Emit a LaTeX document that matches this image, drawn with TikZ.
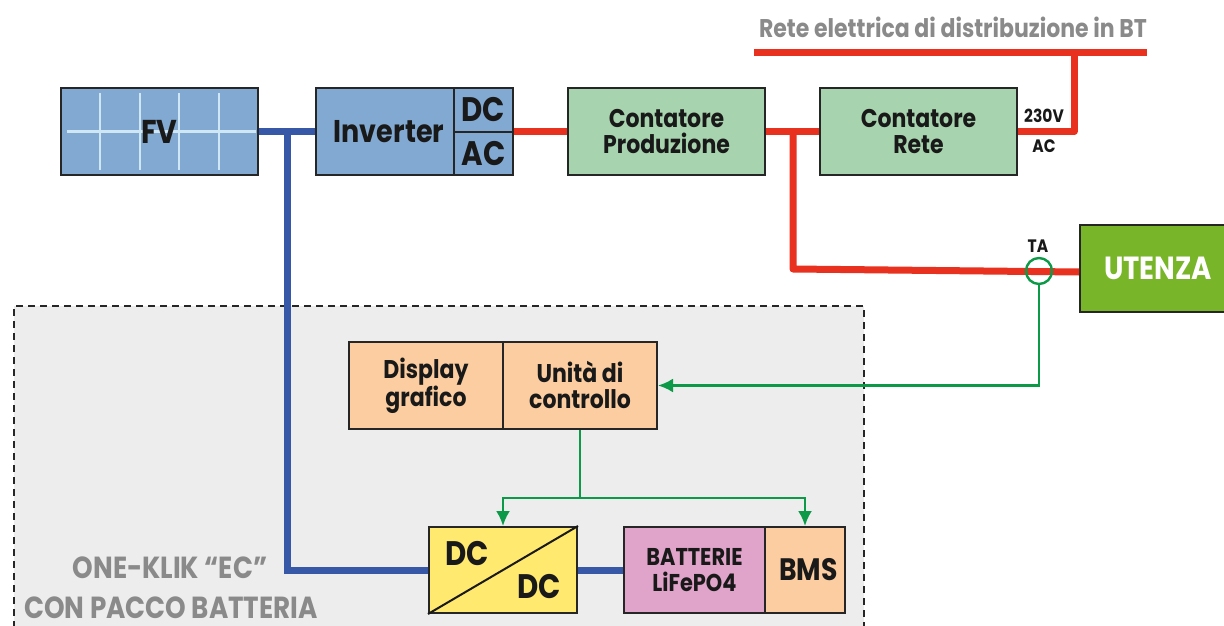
\documentclass[tikz,border=0pt]{standalone}
\usepackage{fontspec}
\setmainfont{Poppins}[FakeStretch=0.86]
\usepackage{tikz}
\usetikzlibrary{arrows.meta, positioning}

\definecolor{fvblue}{HTML}{82A9D2}
\definecolor{gridblue}{HTML}{CFE6F5}
\definecolor{linkblue}{HTML}{3658A6}
\definecolor{linkred}{HTML}{E8311F}
\definecolor{linkgreen}{HTML}{0C9A48}
\definecolor{meter}{HTML}{A7D3AE}
\definecolor{load}{HTML}{78B528}
\definecolor{peach}{HTML}{FBCDA0}
\definecolor{conv}{HTML}{FFE96F}
\definecolor{batt}{HTML}{E0A3C9}
\definecolor{zone}{HTML}{EDEDED}
\definecolor{txtgray}{HTML}{8A8A8A}

\tikzset{
  box/.style={draw=black!85,line width=2pt,minimum height=87pt,inner sep=0pt,align=center,
    font=\fontsize{25.6}{26}\selectfont\bfseries,text=black!90},
  bigtxt/.style={font=\fontsize{34}{36}\selectfont\bfseries},
  panelgrid/.style={draw=gridblue,line width=2.5pt},
  redlink/.style={draw=linkred,line width=7pt},
  bluelink/.style={draw=linkblue,line width=7pt},
  ctrl/.style={draw=linkgreen,line width=2.4pt},
  ctrlarrow/.style={ctrl,-{Latex[length=15pt,width=14pt]}},
  smalltxt/.style={font=\fontsize{18}{20}\selectfont\bfseries,text=black!90,inner sep=0pt},
  graytxt/.style={font=\fontsize{30.5}{32}\selectfont\bfseries,text=txtgray,inner sep=0pt}
}

\begin{document}
\begin{tikzpicture}[x=1pt,y=-1pt,node distance=252pt,on grid]
\useasboundingbox (0,0) rectangle (1224,626);

% zone
\path[fill=zone] (14,306) rectangle (864,640);
\draw[black!85,line width=2pt,dash pattern=on 7pt off 5pt] (14,640) -- (14,306) -- (864,306) -- (864,640);

% top row
\node[box,bigtxt,font=\fontsize{33}{35}\selectfont\bfseries,fill=fvblue,minimum width=197pt,path picture={
    \foreach \gx in {-59.5,-19.5,19.5,59.5}
      \draw[panelgrid] ([xshift=\gx pt,yshift=38.5pt]path picture bounding box.center) -- ([xshift=\gx pt,yshift=-38.5pt]path picture bounding box.center);
    \draw[panelgrid] ([xshift=-92.5pt]path picture bounding box.center) -- ([xshift=96.5pt]path picture bounding box.center);
  }] (fv) at (159.5,131.5) {FV};
\node[box,fill=fvblue,minimum width=138pt,font=\fontsize{31.4}{32}\selectfont\bfseries] (inv) at (385,131.5) {\hspace*{8pt}Inverter};
\node[box,bigtxt,fill=fvblue,minimum width=59pt,minimum height=43.5pt] (indc) at (483.5,109.75) {DC};
\node[box,bigtxt,fill=fvblue,minimum width=59pt,minimum height=43.5pt] (inac) at (483.5,153.25) {AC};
\node[box,fill=meter,minimum width=197pt] (cprod) at (666.5,131.5) {Contatore\\Produzione};
\node[box,fill=meter,minimum width=197pt] (crete) [right=of cprod] {Contatore\\Rete};
\node[box,fill=load,minimum width=160pt,text=white,font=\fontsize{32}{34}\selectfont\bfseries] (utenza) at (1160,268.5) {\hspace*{-4pt}UTENZA};

% control row
\node[box,fill=peach,minimum width=154pt] (disp) at (426,385.5) {Display\\grafico};
\node[box,fill=peach,minimum width=154pt] (unit) at (580,385.5) {\smash{Unit\`a di}\vphantom{Display}\\controllo};

% bottom row
\node[box,fill=conv,minimum width=148pt,minimum height=86pt] (conv) at (503,570) {};
\node[box,fill=batt,minimum width=141pt,minimum height=86pt,font=\fontsize{24.3}{26}\selectfont\bfseries] (batt) at (694.5,570) {BATTERIE\\LiFePO4};
\node[box,fill=peach,minimum width=80pt,minimum height=86pt,font=\fontsize{31}{33}\selectfont\bfseries] (bms) at (805,570) {\hspace*{7pt}BMS};
\draw[black!90,line width=2pt] (conv.south west) -- (conv.north east);
\node[box,bigtxt,draw=none,minimum height=0pt] (dcin) at (467,554) {DC};
\node[box,bigtxt,draw=none,minimum height=0pt] (dcout) at (539,587) {DC};

% grid and labels
\node[graytxt,font=\fontsize{25.6}{28}\selectfont\bfseries] (lblgrid) at (953,27.5) {Rete elettrica di distribuzione in BT};
\node[smalltxt] (lblv) at (1044,116) {230V};
\node[smalltxt] (lblac) at (1044,146) {AC};
\node[smalltxt] (lblta) at (1038,246) {TA};
\node[graytxt] (lblone) at (170,568) {ONE-KLIK ``EC''};
\node[graytxt,anchor=base] (lblcon) at (171,618) {CON PACCO BATTERIA};

\coordinate (busl) at (754,53);
\coordinate (busr) at (1147,53);
\coordinate (busdrop) at (1074,53);
\coordinate (tap) at (793,131.5);
\coordinate (tabelow) at (793,269);
\coordinate (bluetap) at (287,131.5);
\coordinate (split) at (580,498);

% power links
\draw[redlink] (busl) -- (busr);
\draw[redlink,line join=round] (crete.east) -- (1074,131.5) -- (busdrop);
\draw[redlink] (inv.east -| indc.east) -- (cprod.west);
\draw[redlink] (cprod.east) -- (crete.west);
\draw[redlink,line join=round] (tap) -- (tabelow) -- (utenza.west |- 0,272);
\draw[bluelink] (fv.east) -- (inv.west);
\draw[bluelink,line join=miter] (bluetap) -- (287,570) -- (conv.west);
\draw[bluelink] (conv.east) -- (batt.west);

% control links
\node[circle,draw=linkgreen,line width=2.4pt,minimum size=26pt,inner sep=0pt] (ta) at (1039,271) {};
\draw[ctrlarrow] (ta.south) -- (1039,385.5) -- (unit.east);
\draw[ctrl] (unit.south) -- (split);
\draw[ctrlarrow] (split) -- (503,498) -- (conv.north);
\draw[ctrlarrow] (split) -- (805,498) -- (bms.north);
\end{tikzpicture}
\end{document}
